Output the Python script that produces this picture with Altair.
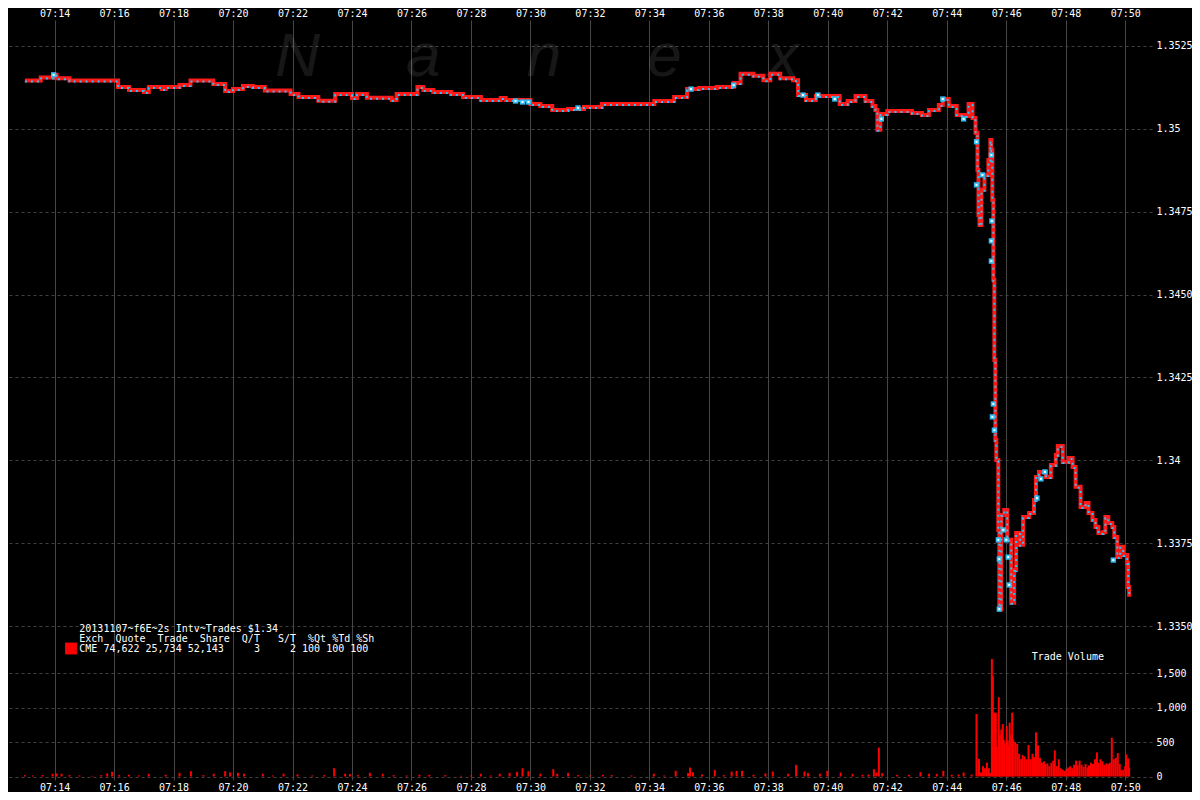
import altair as alt
import pandas as pd

FONT = "DejaVu Sans Mono"
RED = "#ff1a1a"
CYAN = "#33bdf0"

# ---------------- price series (trades) ----------------
price_times = ["07:13:00","07:13:32","07:13:58","07:14:04","07:14:30","07:16:04","07:16:08","07:16:30","07:17:00","07:17:10",
               "07:17:36","07:17:44","07:18:12","07:18:34","07:19:20","07:19:44","07:20:00","07:20:20","07:20:40","07:21:04",
               "07:21:56","07:22:12","07:22:52","07:23:26","07:24:00","07:24:10","07:24:30","07:25:20","07:25:30","07:26:12",
               "07:26:24","07:26:44","07:27:20","07:27:44","07:28:20","07:29:00","07:29:10","07:30:00","07:30:20","07:30:44",
               "07:31:16","07:31:48","07:32:24","07:34:10","07:34:50","07:35:16","07:35:40","07:36:16","07:36:50","07:37:04",
               "07:37:30","07:37:50","07:38:04","07:38:24","07:38:50","07:39:00","07:39:16","07:39:36","07:40:24","07:40:40",
               "07:40:56","07:41:16","07:41:30","07:41:36","07:41:40","07:41:46","07:42:00","07:42:50","07:43:10","07:43:24",
               "07:43:44","07:43:52","07:44:04","07:44:20","07:44:36","07:44:44","07:44:52","07:44:58","07:45:02","07:45:04",
               "07:45:06","07:45:10","07:45:16","07:45:24","07:45:28","07:45:30","07:45:32","07:45:34","07:45:36","07:45:38",
               "07:45:40","07:45:44","07:45:46","07:45:50","07:45:56","07:46:02","07:46:10","07:46:16","07:46:20","07:46:28",
               "07:46:34","07:46:46","07:46:56","07:47:00","07:47:06","07:47:20","07:47:30","07:47:40","07:47:44","07:47:54",
               "07:48:06","07:48:14","07:48:20","07:48:30","07:48:40","07:48:46","07:48:54","07:49:00","07:49:06","07:49:16",
               "07:49:20","07:49:26","07:49:34","07:49:38","07:49:44","07:49:50","07:49:56","07:50:04","07:50:06","07:50:08"]
price_values = [1.35146,1.35155,1.35163,1.35153,1.35146,1.35146,1.35126,1.35117,1.35111,1.35126,
                1.35120,1.35126,1.35132,1.35146,1.35135,1.35114,1.35120,1.35129,1.35126,1.35116,
                1.35105,1.35096,1.35085,1.35105,1.35093,1.35105,1.35094,1.35087,1.35105,1.35126,
                1.35117,1.35111,1.35105,1.35096,1.35087,1.35093,1.35087,1.35075,1.35069,1.35057,
                1.35060,1.35066,1.35075,1.35084,1.35096,1.35120,1.35123,1.35126,1.35138,1.35166,
                1.35160,1.35147,1.35166,1.35153,1.35147,1.35102,1.35087,1.35099,1.35075,1.35084,
                1.35099,1.35084,1.35069,1.35057,1.34997,1.35045,1.35054,1.35048,1.35042,1.35057,
                1.35072,1.35090,1.35069,1.35042,1.35039,1.35075,1.35033,1.34988,1.34876,1.34740,
                1.34710,1.34816,1.34861,1.34906,1.34966,1.34936,1.34785,1.34544,1.34303,1.34061,
                1.34001,1.33790,1.33551,1.33835,1.33850,1.33760,1.33570,1.33669,1.33781,1.33745,
                1.33829,1.33841,1.33880,1.33950,1.33965,1.33950,1.33986,1.34016,1.34043,1.33995,
                1.34007,1.33980,1.33920,1.33859,1.33871,1.33841,1.33820,1.33799,1.33781,1.33784,
                1.33829,1.33811,1.33799,1.33769,1.33708,1.33739,1.33714,1.33690,1.33618,1.33588]

# ---------------- highlighted quotes (cyan squares) ----------------
hl_times = ["07:13:58","07:29:30","07:29:44","07:29:56","07:31:36","07:35:24","07:36:50","07:39:10","07:39:40","07:40:14",
            "07:41:48","07:43:52","07:44:34","07:45:00","07:45:00","07:45:12","07:45:30","07:45:31","07:45:30","07:45:30",
            "07:45:32","07:45:34","07:45:36","07:45:44","07:45:46","07:45:54","07:46:00","07:46:04","07:46:06","07:45:46",
            "07:47:02","07:47:10","07:47:18","07:49:36"]
hl_values = [1.35163,1.35084,1.35081,1.35081,1.35063,1.35120,1.35132,1.35102,1.35102,1.35090,
             1.35030,1.35090,1.35030,1.34961,1.34831,1.34861,1.34921,1.34722,1.34662,1.34601,
             1.34131,1.34170,1.34091,1.33760,1.33702,1.33790,1.33760,1.33708,1.33624,1.33551,
             1.33886,1.33944,1.33965,1.33699]

# ---------------- trade volume (2s intervals) ----------------
vol_times = ["07:13:00","07:13:16","07:13:36","07:13:56","07:14:04","07:14:14","07:14:30","07:14:50","07:15:16","07:15:34",
             "07:15:46","07:15:56","07:16:10","07:16:30","07:16:50","07:17:10","07:17:44","07:18:12","07:18:35","07:19:00",
             "07:19:21","07:19:44","07:19:54","07:20:10","07:20:22","07:21:00","07:21:20","07:21:42","07:22:10","07:22:40",
             "07:23:04","07:23:24","07:23:46","07:23:56","07:24:12","07:24:36","07:25:02","07:25:24","07:25:50","07:26:16",
             "07:26:36","07:27:08","07:27:40","07:28:00","07:28:20","07:28:40","07:28:58","07:29:18","07:29:33","07:29:44",
             "07:29:56","07:30:20","07:30:46","07:30:54","07:31:16","07:31:36","07:32:00","07:32:26","07:32:44","07:33:24",
             "07:34:09","07:34:30","07:34:53","07:35:18","07:35:22","07:35:28","07:35:46","07:36:12","07:36:30","07:36:46",
             "07:36:56","07:37:07","07:37:30","07:37:54","07:38:09","07:38:40","07:38:56","07:39:13","07:39:20","07:39:44",
             "07:39:59","07:40:26","07:40:50","07:41:10","07:41:22","07:41:33","07:41:38","07:41:43","07:41:50","07:42:20",
             "07:42:44","07:43:07","07:43:24","07:43:40","07:43:53","07:44:10","07:44:24","07:44:34","07:44:50",
             "07:45:00","07:45:05","07:45:09","07:45:13","07:45:17","07:45:21","07:45:25","07:45:28","07:45:31","07:45:33",
             "07:45:36","07:45:39","07:45:41","07:45:44","07:45:45","07:45:47","07:45:50","07:45:53","07:45:55","07:45:57",
             "07:46:01","07:46:03","07:46:05","07:46:07","07:46:10","07:46:12","07:46:14","07:46:18","07:46:22","07:46:26",
             "07:46:30","07:46:33","07:46:37","07:46:41","07:46:45","07:46:49","07:46:53","07:46:56","07:47:00","07:47:04",
             "07:47:08","07:47:12","07:47:16","07:47:19","07:47:23","07:47:27","07:47:31","07:47:35","07:47:38","07:47:42",
             "07:47:46","07:47:50","07:47:54","07:47:58","07:48:01","07:48:05","07:48:09","07:48:13","07:48:17","07:48:21",
             "07:48:24","07:48:28","07:48:32","07:48:36","07:48:40","07:48:44","07:48:47","07:48:51","07:48:55","07:48:59",
             "07:49:03","07:49:06","07:49:10","07:49:14","07:49:18","07:49:22","07:49:26","07:49:29","07:49:33","07:49:37",
             "07:49:41","07:49:45","07:49:49","07:49:52","07:49:56","07:50:00","07:50:02","07:50:06","07:50:08"]
vol_values = [20,15,20,40,45,40,20,15,10,20,
              45,68,20,25,15,40,25,53,77,20,
              40,77,58,53,40,40,15,40,30,15,
              20,120,40,35,20,53,40,20,15,25,
              25,20,10,15,40,15,40,53,68,120,
              77,40,106,40,53,20,15,25,20,15,
              40,15,82,50,130,63,30,97,20,72,
              82,82,25,43,72,40,169,72,50,40,
              82,58,40,25,30,106,58,420,50,25,
              25,63,40,40,82,25,30,58,30,
              906,254,60,150,120,200,120,50,1703,1457,
              925,925,430,350,1148,600,680,760,530,480,
              730,520,450,780,600,925,540,500,470,330,
              250,310,290,250,456,250,330,280,640,450,
              270,200,220,180,190,150,200,230,380,150,
              250,120,100,80,110,130,150,120,170,230,
              160,230,170,140,180,130,160,200,180,250,
              350,200,250,220,170,190,180,200,563,250,
              270,340,180,90,100,150,320,260,130]

time_ticks = ["07:%02d:00" % m for m in range(14, 51, 2)]
price_ticks = [1.3350, 1.3375, 1.34, 1.3425, 1.3450, 1.3475, 1.35, 1.3525]
vol_ticks = [0, 500, 1000, 1500]

legend_title = "20131107~f6E~2s Intv~Trades $1.34"
legend_header = "Exch  Quote  Trade  Share  Q/T   S/T  %Qt %Td %Sh"
legend_row = " CME 74,622 25,734 52,143     3     2 100 100 100"
legend_exch = ["CME"]
watermark = "N     a     n     e     x"
vol_title = "Trade Volume"

assert len(price_times) == len(price_values)
assert len(hl_times) == len(hl_values)
assert len(vol_times) == len(vol_values)


def iso(lst):
    return ["2013-11-07T" + t for t in lst]


price_df = pd.DataFrame({"time": iso(price_times), "price": price_values})
hl_df = pd.DataFrame({"time": iso(hl_times), "price": hl_values})
vol_df = pd.DataFrame({"time": iso(vol_times), "volume": vol_values})


def dt(h, m, s):
    return alt.DateTime(year=2013, month=11, date=7, hours=h, minutes=m, seconds=s)


x_scale = alt.Scale(domain=[dt(7, 12, 36), dt(7, 50, 44)])
p_scale = alt.Scale(domain=[1.330355, 1.353284], zero=False, nice=False)
v_scale = alt.Scale(domain=[-50.7, 10964], zero=False, nice=False)
tick_dts = [dt(7, int(t[3:5]), 0) for t in time_ticks]

axis_common = dict(domain=False, ticks=False, labelColor="#ffffff", labelFont=FONT,
                   labelFontSize=10, title=None)

x_top = alt.Axis(orient="top", format="%H:%M", values=tick_dts,
                 grid=False, labelPadding=2, labelFlush=False, **axis_common)
x_bottom = alt.Axis(orient="bottom", format="%H:%M", values=tick_dts,
                    grid=True, gridColor="#474747", gridWidth=1, labelPadding=2, labelFlush=False,
                    **axis_common)
price_axis = alt.Axis(orient="right", values=price_ticks, grid=True, gridColor="#404040",
                      gridDash=[3, 3], labelPadding=4, labelAlign="left", labelFlush=False,
                      labelExpr="abs(datum.value-1.35)<0.000001 ? '1.35' : abs(datum.value-1.34)<0.000001 ? '1.34' : format(datum.value, '.4f')",
                      **axis_common)
vol_axis = alt.Axis(orient="right", values=vol_ticks, grid=True, gridColor="#404040",
                    gridDash=[3, 3], labelPadding=4, labelAlign="left", labelFlush=False,
                    labelExpr="format(datum.value, ',')",
                    **axis_common)

X_T = alt.X("time:T", scale=x_scale, axis=x_top)
X_N = alt.X("time:T", scale=x_scale, axis=None)
Y_P = alt.Y("price:Q", scale=p_scale, axis=price_axis)
Y_N = alt.Y("price:Q", scale=p_scale, axis=None)

red_line = alt.Chart(price_df).mark_line(interpolate="step-after", strokeWidth=4, color=RED).encode(
    x=X_T, y=Y_P)
cyan_line = alt.Chart(price_df).mark_line(interpolate="step-after", strokeWidth=2, color=CYAN,
                                          strokeDash=[2, 4], yOffset=1).encode(x=X_N, y=Y_N)
hl_outer = alt.Chart(hl_df).mark_square(size=28, color=CYAN, opacity=1).encode(x=X_N, y=Y_N)
hl_inner = alt.Chart(hl_df).mark_square(size=4, color="#ffffff", opacity=1).encode(x=X_N, y=Y_N)

vol_bars = alt.Chart(vol_df).mark_bar(size=2, color="#ff0000").encode(
    x=alt.X("time:T", scale=x_scale, axis=x_bottom),
    y=alt.Y("volume:Q", scale=v_scale, axis=vol_axis),
)


def text_layer(txt, x, y, **kw):
    style = dict(align="left", baseline="middle", font=FONT, fontSize=10, color="#ffffff")
    style.update(kw)
    return alt.Chart(pd.DataFrame({"t": [txt.replace(" ", "\u00a0")]})).mark_text(**style).encode(
        x=alt.value(x), y=alt.value(y), text="t:N")


wm = text_layer(watermark, 529, 56, align="center", baseline="alphabetic", font="Liberation Sans",
                fontStyle="italic", fontSize=62, opacity=0.09)
t1 = text_layer(legend_title, 71.3, 609)
t2 = text_layer(legend_header, 71.3, 619)
t3 = text_layer(legend_row, 71.3, 628.7)
t4 = text_layer(vol_title, 1023.7, 637.3)
sq = alt.Chart(pd.DataFrame({"exch": legend_exch})).mark_square(size=140, color="#ff0000", opacity=1).encode(
    x=alt.value(63), y=alt.value(628.5))

chart = alt.layer(wm, vol_bars, red_line, cyan_line, hl_outer, hl_inner, t1, t2, t3, t4, sq).resolve_scale(
    y="independent").properties(
    width=1144, height=760, autosize="none",
    padding={"left": 0, "top": 12, "right": 40, "bottom": 12},
    background="#000000",
).configure_view(stroke=None)

chart.save("out.html", embed_options={"renderer": "svg", "actions": False})
